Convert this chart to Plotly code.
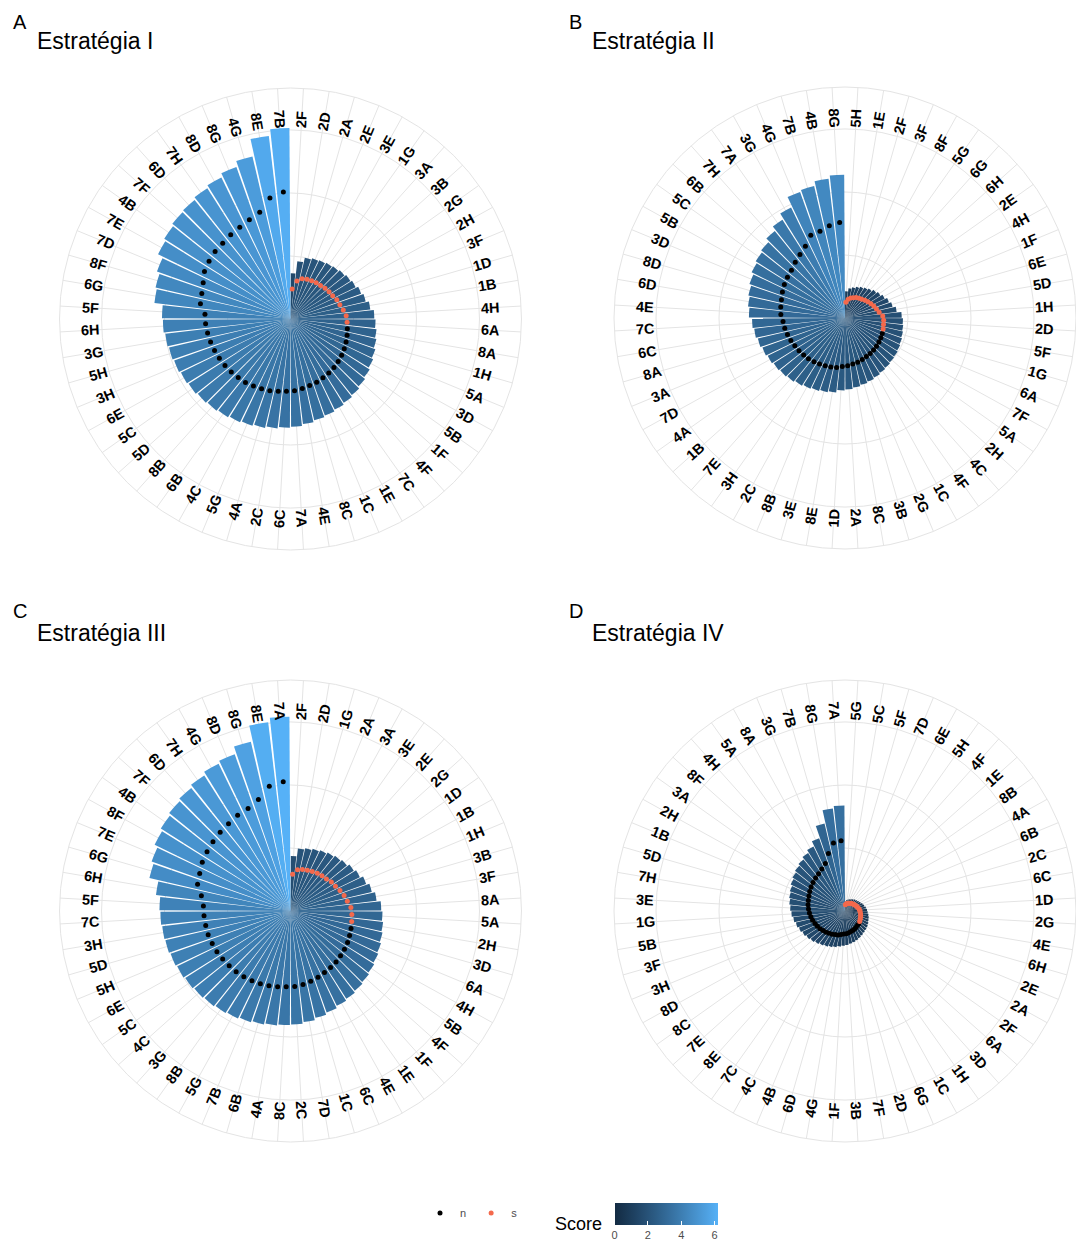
import math
import plotly.graph_objects as go

W, H = 1076, 1246

# ---- data: pairs ordered by score, clockwise from 12 o'clock ----
labels_a = ["2F", "2D", "2A", "2E", "3E", "1G", "3A", "3B", "2G", "2H", "3F", "1D", "1B", "4H",
            "6A", "8A", "1H", "5A", "3D", "5B", "1F", "4F", "7C", "1E", "1C", "8C", "4E", "7A",
            "6C", "2C", "4A", "5G", "4C", "6B", "8B", "5D", "5C", "6E", "3H", "5H", "3G", "6H",
            "5F", "6G", "8F", "7D", "7E", "4B", "7F", "6D", "7H", "8D", "8G", "4G", "8E", "7B"]
score_a = [1.45, 1.85, 2.00, 2.05, 2.08, 2.12, 2.15, 2.20, 2.25, 2.30, 2.38, 2.45, 2.55, 2.66,
           2.70, 2.75, 2.80, 2.86, 2.92, 2.98, 3.04, 3.10, 3.15, 3.20, 3.25, 3.30, 3.36, 3.42,
           3.45, 3.50, 3.55, 3.60, 3.65, 3.70, 3.74, 3.78, 3.83, 3.87, 3.92, 3.96, 4.00, 4.05,
           4.08, 4.35, 4.40, 4.50, 4.68, 4.75, 4.82, 4.85, 4.92, 5.00, 5.12, 5.30, 5.85, 6.06]
point_a = [0.95, 1.22, 1.33, 1.37, 1.39, 1.41, 1.43, 1.47, 1.50, 1.53, 1.59, 1.63, 1.70, 1.77,
           1.80, 1.83, 1.87, 1.91, 1.95, 1.99, 2.03, 2.07, 2.10, 2.13, 2.17, 2.20, 2.24, 2.28,
           2.30, 2.33, 2.37, 2.40, 2.43, 2.47, 2.49, 2.52, 2.55, 2.58, 2.61, 2.64, 2.67, 2.70,
           2.72, 2.90, 2.93, 3.00, 3.12, 3.17, 3.21, 3.23, 3.28, 3.33, 3.41, 3.53, 3.90, 4.04]
group_a = list("sssssssssssssss" "nnnnnnnnnnnnnnnnnnnnnnnnnnnnnnnnnnnnnnnnn")

labels_b = ["5H", "1E", "2F", "3F", "8F", "5G", "6G", "6H", "2E", "4H", "1F", "6E", "5D", "1H",
            "2D", "5F", "1G", "6A", "7F", "5A", "2H", "4C", "4F", "1C", "2G", "3B", "8C", "2A",
            "1D", "8E", "3E", "8B", "2C", "3H", "7E", "1B", "4A", "7D", "3A", "8A", "6C", "7C",
            "4E", "6D", "8D", "3D", "5B", "5C", "6B", "7H", "7A", "3G", "4G", "7B", "4B", "8G"]
score_b = [0.85, 0.95, 1.00, 1.05, 1.10, 1.15, 1.20, 1.27, 1.33, 1.40, 1.48, 1.55, 1.65, 1.80,
           1.84, 1.86, 1.89, 1.92, 1.95, 1.98, 2.00, 2.03, 2.06, 2.10, 2.14, 2.18, 2.22, 2.27,
           2.30, 2.38, 2.42, 2.46, 2.50, 2.55, 2.60, 2.64, 2.68, 2.73, 2.78, 2.84, 2.90, 2.95,
           3.05, 3.10, 3.15, 3.22, 3.30, 3.36, 3.42, 3.55, 3.70, 3.90, 4.25, 4.30, 4.45, 4.55]
point_b = [0.50, 0.60, 0.66, 0.70, 0.74, 0.77, 0.80, 0.85, 0.89, 0.94, 0.99, 1.04, 1.10, 1.20,
           1.23, 1.24, 1.26, 1.28, 1.30, 1.32, 1.34, 1.36, 1.38, 1.40, 1.43, 1.46, 1.48, 1.52,
           1.54, 1.59, 1.62, 1.64, 1.67, 1.70, 1.74, 1.76, 1.79, 1.82, 1.86, 1.90, 1.94, 1.97,
           2.04, 2.07, 2.10, 2.15, 2.20, 2.24, 2.28, 2.37, 2.47, 2.60, 2.84, 2.87, 2.97, 3.04]
group_b = list("sssssssssssssssss" "nnnnnnnnnnnnnnnnnnnnnnnnnnnnnnnnnnnnnnn")

labels_c = ["2F", "2D", "1G", "2A", "3A", "3E", "2E", "2G", "1D", "1B", "1H", "3B", "3F", "8A",
            "5A", "2H", "3D", "6A", "4H", "5B", "4F", "1F", "1E", "4E", "6C", "1C", "7D", "2C",
            "8C", "4A", "6B", "7B", "5G", "8B", "3G", "4C", "5C", "6E", "5H", "5D", "3H", "7C",
            "5F", "6H", "6G", "7E", "8F", "4B", "7F", "6D", "7H", "4G", "8D", "8G", "8E", "7A"]
score_c = [1.75, 2.00, 2.05, 2.10, 2.15, 2.20, 2.25, 2.30, 2.38, 2.45, 2.55, 2.65, 2.75, 2.88,
           2.92, 2.96, 3.00, 3.05, 3.10, 3.15, 3.20, 3.25, 3.30, 3.35, 3.42, 3.48, 3.55, 3.60,
           3.62, 3.66, 3.70, 3.75, 3.80, 3.84, 3.88, 3.92, 3.96, 4.00, 4.04, 4.08, 4.10, 4.13,
           4.16, 4.30, 4.60, 4.68, 4.80, 4.88, 4.95, 5.02, 5.10, 5.20, 5.28, 5.52, 6.03, 6.17]
point_c = [1.17, 1.33, 1.37, 1.40, 1.43, 1.47, 1.50, 1.53, 1.59, 1.63, 1.70, 1.77, 1.83, 1.92,
           1.95, 1.97, 2.00, 2.03, 2.07, 2.10, 2.13, 2.17, 2.20, 2.23, 2.28, 2.32, 2.37, 2.40,
           2.41, 2.44, 2.47, 2.50, 2.53, 2.56, 2.59, 2.61, 2.64, 2.67, 2.69, 2.72, 2.73, 2.75,
           2.77, 2.87, 3.07, 3.12, 3.20, 3.25, 3.30, 3.35, 3.40, 3.47, 3.52, 3.68, 4.02, 4.11]
group_c = list("ssssssssssssssss" "nnnnnnnnnnnnnnnnnnnnnnnnnnnnnnnnnnnnnnnn")

labels_d = ["5G", "5C", "5F", "7D", "6E", "5H", "4F", "1E", "8B", "4A", "6B", "2C", "6C", "1D",
            "2G", "4E", "6H", "2E", "2A", "2F", "6A", "3D", "1H", "1C", "6G", "2D", "7F", "3B",
            "1F", "4G", "6D", "4B", "4C", "7C", "8E", "7E", "8C", "8D", "3H", "3F", "5B", "1G",
            "3E", "7H", "5D", "1B", "2H", "3A", "8F", "4H", "5A", "8A", "3G", "7B", "8G", "7A"]
score_d = [0.30, 0.35, 0.38, 0.40, 0.42, 0.45, 0.48, 0.50, 0.53, 0.56, 0.60, 0.63, 0.67, 0.70,
           0.72, 0.75, 0.78, 0.80, 0.83, 0.86, 0.88, 0.90, 0.93, 0.96, 0.99, 1.02, 1.05, 1.08,
           1.10, 1.14, 1.18, 1.22, 1.26, 1.30, 1.35, 1.40, 1.45, 1.50, 1.55, 1.60, 1.65, 1.70,
           1.74, 1.78, 1.82, 1.86, 1.92, 1.98, 2.04, 2.10, 2.18, 2.28, 2.45, 2.85, 3.28, 3.35]
point_d = [0.20, 0.23, 0.25, 0.27, 0.28, 0.30, 0.32, 0.33, 0.35, 0.37, 0.40, 0.42, 0.45, 0.47,
           0.48, 0.50, 0.52, 0.53, 0.55, 0.57, 0.59, 0.60, 0.62, 0.64, 0.66, 0.68, 0.70, 0.72,
           0.73, 0.76, 0.79, 0.81, 0.84, 0.87, 0.90, 0.93, 0.97, 1.00, 1.03, 1.07, 1.10, 1.13,
           1.16, 1.19, 1.21, 1.24, 1.28, 1.32, 1.36, 1.40, 1.45, 1.52, 1.63, 1.90, 2.19, 2.23]
group_d = list("ssssssssssssssssssss" "nnnnnnnnnnnnnnnnnnnnnnnnnnnnnnnnnnnn")

tags = ["A", "B", "C", "D"]
titles = ["Estratégia I", "Estratégia II", "Estratégia III", "Estratégia IV"]
score_ticks = [0, 2, 4, 6]

# ---- layout geometry (pixels) ----
centers = [(290.5, 319.0), (845.0, 318.0), (290.5, 911.0), (845.0, 911.0)]
R_PX = 231.0                 # outer circle radius
PX_PER_UNIT = 31.5           # radial scale
R_MAX = R_PX / PX_PER_UNIT
LABEL_R_PX = 200.0
# (tag x, title x, tag y, title y)
title_pos = [(11, 35, 22, 41), (567, 590, 22, 41), (11, 35, 611, 633), (567, 590, 611, 633)]

FONT = "Liberation Sans, Arial, sans-serif"
GRID = "#E4E4E4"
N_COL = "#000000"
S_COL = "#F4694C"


def clamp01(v):
    return max(0.0, min(1.0, v))


def hex_to_lab(h):
    rgb = [int(h[i:i + 2], 16) / 255 for i in (1, 3, 5)]
    lin = [c / 12.92 if c <= 0.04045 else ((c + 0.055) / 1.055) ** 2.4 for c in rgb]
    x = (0.4124 * lin[0] + 0.3576 * lin[1] + 0.1805 * lin[2]) / 0.95047
    y = (0.2126 * lin[0] + 0.7152 * lin[1] + 0.0722 * lin[2])
    z = (0.0193 * lin[0] + 0.1192 * lin[1] + 0.9505 * lin[2]) / 1.08883
    f = lambda t: t ** (1 / 3) if t > 0.008856 else 7.787 * t + 16 / 116
    fx, fy, fz = f(x), f(y), f(z)
    return (116 * fy - 16, 500 * (fx - fy), 200 * (fy - fz))


def lab_to_hex(lab):
    L, a, b = lab
    fy = (L + 16) / 116
    fx = fy + a / 500
    fz = fy - b / 200
    g = lambda t: t ** 3 if t ** 3 > 0.008856 else (t - 16 / 116) / 7.787
    x, y, z = g(fx) * 0.95047, g(fy), g(fz) * 1.08883
    lin = [3.2406 * x - 1.5372 * y - 0.4986 * z,
           -0.9689 * x + 1.8758 * y + 0.0415 * z,
           0.0557 * x - 0.2040 * y + 1.0570 * z]
    out = []
    for c in lin:
        c = max(0.0, min(1.0, c))
        c = 12.92 * c if c <= 0.0031308 else 1.055 * c ** (1 / 2.4) - 0.055
        out.append(round(c * 255))
    return "#%02x%02x%02x" % tuple(out)


lo, hi = hex_to_lab("#132B43"), hex_to_lab("#56B1F7")
colorscale = [[k / 10, lab_to_hex(tuple(lo[j] + (hi[j] - lo[j]) * k / 10 for j in range(3)))]
              for k in range(11)]

panels = [
    (labels_a, score_a, point_a, group_a),
    (labels_b, score_b, point_b, group_b),
    (labels_c, score_c, point_c, group_c),
    (labels_d, score_d, point_d, group_d),
]
all_scores = score_a + score_b + score_c + score_d

fig = go.Figure()
annotations = []
layout_polars = {}

for p, (labels, score, point, group) in enumerate(panels):
    key = "polar" if p == 0 else f"polar{p + 1}"
    cx, cy = centers[p]
    n = len(labels)
    step = 360.0 / n

    fig.add_trace(go.Barpolar(
        theta=labels, r=score, subplot=key,
        marker=dict(color=score, coloraxis="coloraxis", line=dict(width=0)),
        showlegend=False, hoverinfo="skip",
    ))
    for grp, col in (("n", N_COL), ("s", S_COL)):
        th = [l for l, g in zip(labels, group) if g == grp]
        rr = [v for v, g in zip(point, group) if g == grp]
        fig.add_trace(go.Scatterpolar(
            theta=th, r=rr, subplot=key, mode="markers", name=grp,
            marker=dict(color=col, size=5),
            legendgroup=grp, showlegend=(p == 0), hoverinfo="skip",
        ))

    layout_polars[key] = dict(
        domain=dict(x=[clamp01((cx - R_PX) / W), clamp01((cx + R_PX) / W)],
                    y=[clamp01(1 - (cy + R_PX) / H), clamp01(1 - (cy - R_PX) / H)]),
        bgcolor="white",
        bargap=0.1,
        radialaxis=dict(range=[0, R_MAX], tickvals=[2, 4, 6], showticklabels=False,
                        ticks="", showline=False, gridcolor=GRID, gridwidth=1,
                        layer="below traces"),
        angularaxis=dict(type="category", categoryorder="array", categoryarray=labels,
                         direction="clockwise", rotation=90 - step / 2,
                         showticklabels=False, ticks="", showline=True,
                         linecolor=GRID, linewidth=1, gridcolor=GRID, gridwidth=1,
                         layer="below traces"),
    )

    # radial category labels
    for i, lab in enumerate(labels):
        ang = (i + 0.5) * step
        x = cx + LABEL_R_PX * math.sin(math.radians(ang))
        y = cy - LABEL_R_PX * math.cos(math.radians(ang))
        rot = ang - 90 if ang < 180 else ang - 270
        annotations.append(dict(
            x=x / W, y=1 - y / H, xref="paper", yref="paper", text=f"<b>{lab}</b>",
            showarrow=False, textangle=rot, xanchor="center", yanchor="middle",
            font=dict(family=FONT, size=14.5, color="black"),
        ))

    tx, ttx, ty, tty = title_pos[p]
    annotations.append(dict(x=tx / W, y=1 - ty / H, xref="paper", yref="paper", text=tags[p],
                            showarrow=False, xanchor="left", yanchor="middle",
                            font=dict(family=FONT, size=20, color="black")))
    annotations.append(dict(x=ttx / W, y=1 - tty / H, xref="paper", yref="paper", text=titles[p],
                            showarrow=False, xanchor="left", yanchor="middle",
                            font=dict(family=FONT, size=23, color="black")))

annotations.append(dict(x=578 / W, y=1 - 1224 / H, xref="paper", yref="paper", text="Score",
                        showarrow=False, xanchor="center", yanchor="middle",
                        font=dict(family=FONT, size=18, color="black")))

fig.update_layout(
    width=W, height=H,
    margin=dict(l=0, r=0, t=0, b=0),
    paper_bgcolor="white", plot_bgcolor="white",
    font=dict(family=FONT),
    annotations=annotations,
    coloraxis=dict(
        colorscale=colorscale, cmin=0, cmax=max(all_scores),
        colorbar=dict(orientation="h", x=666 / W, xanchor="center", y=1 - 1203 / H,
                      yanchor="top", len=103, lenmode="pixels", thickness=22,
                      outlinewidth=0, tickvals=score_ticks, ticks="inside",
                      tickcolor="white", ticklen=4, xpad=0, ypad=0,
                      tickfont=dict(family=FONT, size=11, color="#4D4D4D")),
    ),
    legend=dict(orientation="h", x=420 / W, xanchor="left", y=1 - 1213 / H,
                yanchor="middle", font=dict(family=FONT, size=11, color="#4D4D4D"),
                itemwidth=30, tracegroupgap=0, bgcolor="rgba(0,0,0,0)"),
    **layout_polars,
)

fig.write_html("out.html")
